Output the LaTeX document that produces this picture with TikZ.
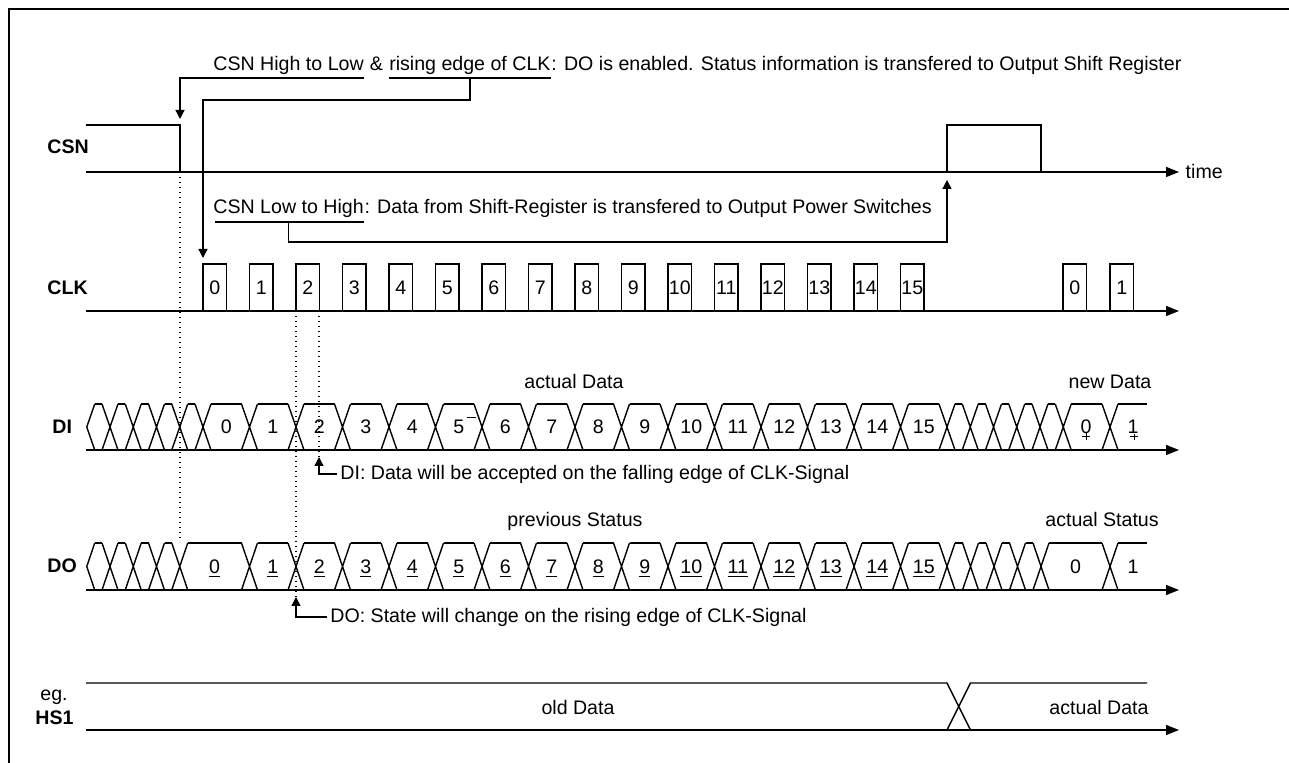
\documentclass[tikz,border=0pt]{standalone}
\usepackage{fontspec}
\setmainfont{Liberation Sans}
\usetikzlibrary{arrows.meta,calc}

\newcommand{\tdsize}{\fontsize{9.8pt}{11.8pt}\selectfont}

\tikzset{
    sig/.style={line width=0.7pt},
    axis/.style={sig, -{Triangle[length=6.5pt,width=5pt]}},
    leader/.style={line width=0.65pt, -{Triangle[length=4.5pt,width=4.5pt]}},
    guide/.style={line width=0.65pt, dash pattern=on 0.7pt off 1.8pt},
    lbl/.style={font=\tdsize\bfseries, anchor=west, inner sep=0pt},
    txt/.style={inner sep=0pt, anchor=base west},
    num/.style={inner sep=0pt, anchor=base},
    glitch/.style={line width=0.5pt}
}

\begin{document}
\begin{tikzpicture}[x=0.5pt, y=-0.5pt, every node/.style={font=\tdsize}]
                \useasboundingbox (0,0) rectangle (1289,763);
                \draw[line width=1.2pt] (9,775) -- (9,9) -- (1300,9);

                \node[lbl] (csn) at (47,147) {CSN};
                \node[lbl] (clk) at (47,288) {CLK};
                \node[lbl] (sigdi) at (52,427) {DI};
                \node[lbl] (sigdo) at (47,566) {DO};
                \node[anchor=west, inner sep=0pt] (eg) at (40,697) {eg.};
                \node[lbl] (hs) at (35,718) {HS1};

                \draw[axis] (86,172) -- (1179,172) node[anchor=west, inner sep=3pt] (time) {time};
                \draw[sig] (86,125) -- (180,125) -- (180,172);
                \draw[sig] (947,172) -- (947,125) -- (1041,125) -- (1041,172);

                \draw[axis] (86,311) -- (1179,311);
                \foreach \i in {0,...,15} {
                    \draw[sig] (203+46.5*\i,311) -- ++(0,-47) -- ++(23.5,0) -- ++(0,47);
                    \node[num] (clk\i) at (214.75+46.5*\i,295) {\i};
                }
                \foreach \x/\n in {1063/0,1110/1} {
                    \draw[sig] (\x,311) -- ++(0,-47) -- ++(23.5,0) -- ++(0,47);
                    \node[num] (clkb\n) at (\x+11.75,295) {\n};
                }

                \draw[axis] (86,450) -- (1179,450);
                \draw[sig] (94.75,404) -- (86.75,427) -- (94.75,450);
                \foreach \c [remember=\c as \p (initially 86.75)] in {110,133.25,156.5,179.75,203,249.5,296,342.5,389,435.5,482,528.5,575,621.5,668,714.5,761,807.5,854,900.5,947,970.25,993.5,1016.75,1040,1063.25,1110} {
                    \draw[sig] (\p+8,404) -- (\c-8,404);
                    \draw[sig] (\c-8,404) -- (\c+8,450) (\c-8,450) -- (\c+8,404);
                }
                \draw[sig] (1118,404) -- (1147,404);
                \foreach \i in {0,...,15}
                    \node[num] (dia\i) at (226.25+46.5*\i,434) {\i};
                \node[num] (dib0) at (1086,434) {0};
                \node[num] (dib1) at (1133,434) {1};
                \draw[glitch] (467,418) -- (476,418);
                \draw[glitch] (1086,433) -- (1086,440) (1082,437) -- (1090,437);
                \draw[glitch] (1134,434) -- (1134,440) (1130,437) -- (1138,437);

                \draw[axis] (86,590) -- (1179,590);
                \draw[sig] (94.75,543) -- (86.75,566.5) -- (94.75,590);
                \foreach \c [remember=\c as \p (initially 86.75)] in {110,133.25,156.5,179.75,249.5,296,342.5,389,435.5,482,528.5,575,621.5,668,714.5,761,807.5,854,900.5,947,970.5,994,1017.5,1041,1110} {
                    \draw[sig] (\p+8,543) -- (\c-8,543);
                    \draw[sig] (\c-8,543) -- (\c+8,590) (\c-8,590) -- (\c+8,543);
                }
                \draw[sig] (1118,543) -- (1147,543);
                \node[num] (doa0) at (214.6,573.5) {\underline{0}};
                \foreach \i in {1,...,15}
                    \node[num] (doa\i) at (226.25+46.5*\i,573.5) {\underline{\i}};
                \node[num] (dob0) at (1075.5,573.5) {0};
                \node[num] (dob1) at (1133,573.5) {1};

                \draw[axis] (86,730) -- (1179,730);
                \draw[sig] (86,683) -- (947,683) -- (970.5,730) (947,730) -- (970.5,683) -- (1147,683);

                \node[num] (actdata) at (574,389) {actual Data};
                \node[num] (newdata) at (1110,389) {new Data};
                \node[num] (prevstat) at (575,527) {previous Status};
                \node[num] (actstat) at (1102,527) {actual Status};
                \node[num] (olddata) at (578,714) {old Data};
                \node[num, anchor=base east] (actdatab) at (1149,714) {actual Data};

                \node[txt] (hl) at (213,71) {CSN High to Low};
                \node[txt] (amp) at (hl.base east) {\ \&\ \null};
                \node[txt] (re) at (amp.base east) {rising edge of CLK};
                \node[txt] (rerest) at (re.base east) {: DO is enabled. Status information is transfered to Output Shift Register};
                \coordinate (csnfall) at (180,119);
                \coordinate (clkfirst) at (203,258);
                \draw[leader] ($(hl.base east)+(0,7)$) -| (csnfall);
                \draw[sig] ($(re.base west)+(0,7)$) -- ($(re.base east)+(0,7)$);
                \draw[leader] ($(re.base)+(0,7)$) -- ++(0,22) -| (clkfirst);

                \node[txt] (lh) at (213,214) {CSN Low to High};
                \node[txt] (lhrest) at (lh.base east) {: Data from Shift-Register is transfered to Output Power Switches};
                \coordinate (csnrise) at (947,180);
                \draw[sig] ($(lh.base west)+(2,8)$) -- ($(lh.base east)+(0,8)$);
                \draw[leader] ($(lh.base)+(0,8)$) -- ++(0,20) -| (csnrise);

                \draw[guide] (180,172) -- (180,542);
                \draw[guide] (296,311) -- (296,597);
                \draw[guide] (319,311) -- (319,457);

                \coordinate (ditip) at (319,457);
                \node[anchor=west, inner sep=1.5pt] (dinote) at (337,474) {DI: Data will be accepted on the falling edge of CLK-Signal};
                \draw[leader] (dinote.west) -| (ditip);

                \coordinate (dotip) at (296,597);
                \node[anchor=west, inner sep=1.5pt] (donote) at (327,617) {DO: State will change on the rising edge of CLK-Signal};
                \draw[leader] (donote.west) -| (dotip);
\end{tikzpicture}
\end{document}
